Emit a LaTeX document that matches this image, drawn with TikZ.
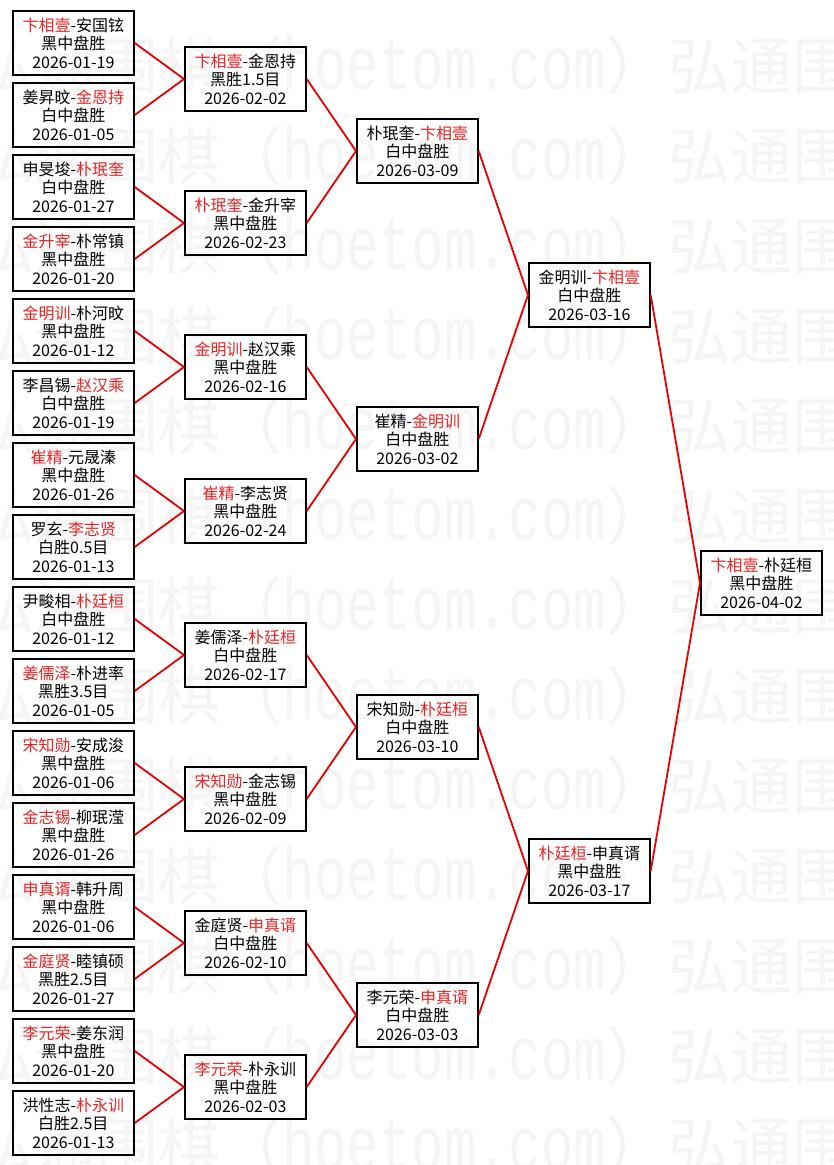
\documentclass[tikz,border=0pt]{standalone}
\usepackage{fontspec}
\usepackage{graphicx}
\setmainfont{Noto Sans CJK SC}
\newfontfamily\wmlat{Liberation Mono}
\definecolor{wred}{RGB}{230,36,36}
\definecolor{lred}{RGB}{232,0,0}
\definecolor{wmgray}{gray}{0.962}
\newcommand\win[1]{\textcolor{wred}{#1}}
\newcommand\wmpart{弘通围棋（\scalebox{0.72}[1]{\wmlat\fontsize{75}{75}\selectfont hoetom.com}）}
\tikzset{
  game/.style={draw=black, line width=2pt, minimum width=120.7pt, minimum height=64pt,
    inner sep=0pt, align=center, font=\fontsize{16}{18.6}\selectfont},
  link/.style={draw=lred, line width=1.8pt},
  wm/.style={anchor=base west, inner sep=0pt, text=wmgray, font=\fontsize{62}{62}\selectfont},
}
\begin{document}
\begin{tikzpicture}[x=1pt,y=-1pt]
\useasboundingbox (0,0) rectangle (833,1165);
\fill[white] (0,0) rectangle (833,1165);
% watermark
\foreach \k in {0,...,12}{
  \node[wm] (wm\k) at (-28,{89+90*\k}) {\wmpart\wmpart};
}
% round 1
\node[game] (a1)  at (73.35,43)   {\win{卞相壹}-安国铉\\黑中盘胜\\2026-01-19};
\node[game] (a2)  at (73.35,115)  {姜昇旼-\win{金恩持}\\白中盘胜\\2026-01-05};
\node[game] (a3)  at (73.35,187)  {申旻埈-\win{朴珉奎}\\白中盘胜\\2026-01-27};
\node[game] (a4)  at (73.35,259)  {\win{金升宰}-朴常镇\\黑中盘胜\\2026-01-20};
\node[game] (a5)  at (73.35,331)  {\win{金明训}-朴河旼\\黑中盘胜\\2026-01-12};
\node[game] (a6)  at (73.35,403)  {李昌锡-\win{赵汉乘}\\白中盘胜\\2026-01-19};
\node[game] (a7)  at (73.35,475)  {\win{崔精}-元晟溱\\黑中盘胜\\2026-01-26};
\node[game] (a8)  at (73.35,547)  {罗玄-\win{李志贤}\\白胜0.5目\\2026-01-13};
\node[game] (a9)  at (73.35,619)  {尹畯相-\win{朴廷桓}\\白中盘胜\\2026-01-12};
\node[game] (a10) at (73.35,691)  {\win{姜儒泽}-朴进率\\黑胜3.5目\\2026-01-05};
\node[game] (a11) at (73.35,763)  {\win{宋知勋}-安成浚\\黑中盘胜\\2026-01-06};
\node[game] (a12) at (73.35,835)  {\win{金志锡}-柳珉滢\\黑中盘胜\\2026-01-26};
\node[game] (a13) at (73.35,907)  {\win{申真谞}-韩升周\\黑中盘胜\\2026-01-06};
\node[game] (a14) at (73.35,979)  {\win{金庭贤}-睦镇硕\\黑胜2.5目\\2026-01-27};
\node[game] (a15) at (73.35,1051) {\win{李元荣}-姜东润\\黑中盘胜\\2026-01-20};
\node[game] (a16) at (73.35,1123) {洪性志-\win{朴永训}\\白胜2.5目\\2026-01-13};
% round 2
\node[game] (b1) at (245.35,79)   {\win{卞相壹}-金恩持\\黑胜1.5目\\2026-02-02};
\node[game] (b2) at (245.35,223)  {\win{朴珉奎}-金升宰\\黑中盘胜\\2026-02-23};
\node[game] (b3) at (245.35,367)  {\win{金明训}-赵汉乘\\黑中盘胜\\2026-02-16};
\node[game] (b4) at (245.35,511)  {\win{崔精}-李志贤\\黑中盘胜\\2026-02-24};
\node[game] (b5) at (245.35,655)  {姜儒泽-\win{朴廷桓}\\白中盘胜\\2026-02-17};
\node[game] (b6) at (245.35,799)  {\win{宋知勋}-金志锡\\黑中盘胜\\2026-02-09};
\node[game] (b7) at (245.35,943)  {金庭贤-\win{申真谞}\\白中盘胜\\2026-02-10};
\node[game] (b8) at (245.35,1087) {\win{李元荣}-朴永训\\黑中盘胜\\2026-02-03};
% round 3
\node[game] (c1) at (417.35,151)  {朴珉奎-\win{卞相壹}\\白中盘胜\\2026-03-09};
\node[game] (c2) at (417.35,439)  {崔精-\win{金明训}\\白中盘胜\\2026-03-02};
\node[game] (c3) at (417.35,727)  {宋知勋-\win{朴廷桓}\\白中盘胜\\2026-03-10};
\node[game] (c4) at (417.35,1015) {李元荣-\win{申真谞}\\白中盘胜\\2026-03-03};
% round 4
\node[game] (d1) at (589.35,295)  {金明训-\win{卞相壹}\\白中盘胜\\2026-03-16};
\node[game] (d2) at (589.35,871)  {\win{朴廷桓}-申真谞\\黑中盘胜\\2026-03-17};
% final
\node[game] (e1) at (761.35,583)  {\win{卞相壹}-朴廷桓\\黑中盘胜\\2026-04-02};
% connectors
\foreach \i/\p in {1/1,2/1,3/2,4/2,5/3,6/3,7/4,8/4,9/5,10/5,11/6,12/6,13/7,14/7,15/8,16/8}{
  \draw[link] (a\i.east) -- (b\p.west);
}
\foreach \i/\p in {1/1,2/1,3/2,4/2,5/3,6/3,7/4,8/4}{
  \draw[link] (b\i.east) -- (c\p.west);
}
\foreach \i/\p in {1/1,2/1,3/2,4/2}{
  \draw[link] (c\i.east) -- (d\p.west);
}
\draw[link] (d1.east) -- (e1.west);
\draw[link] (d2.east) -- (e1.west);
\end{tikzpicture}
\end{document}
